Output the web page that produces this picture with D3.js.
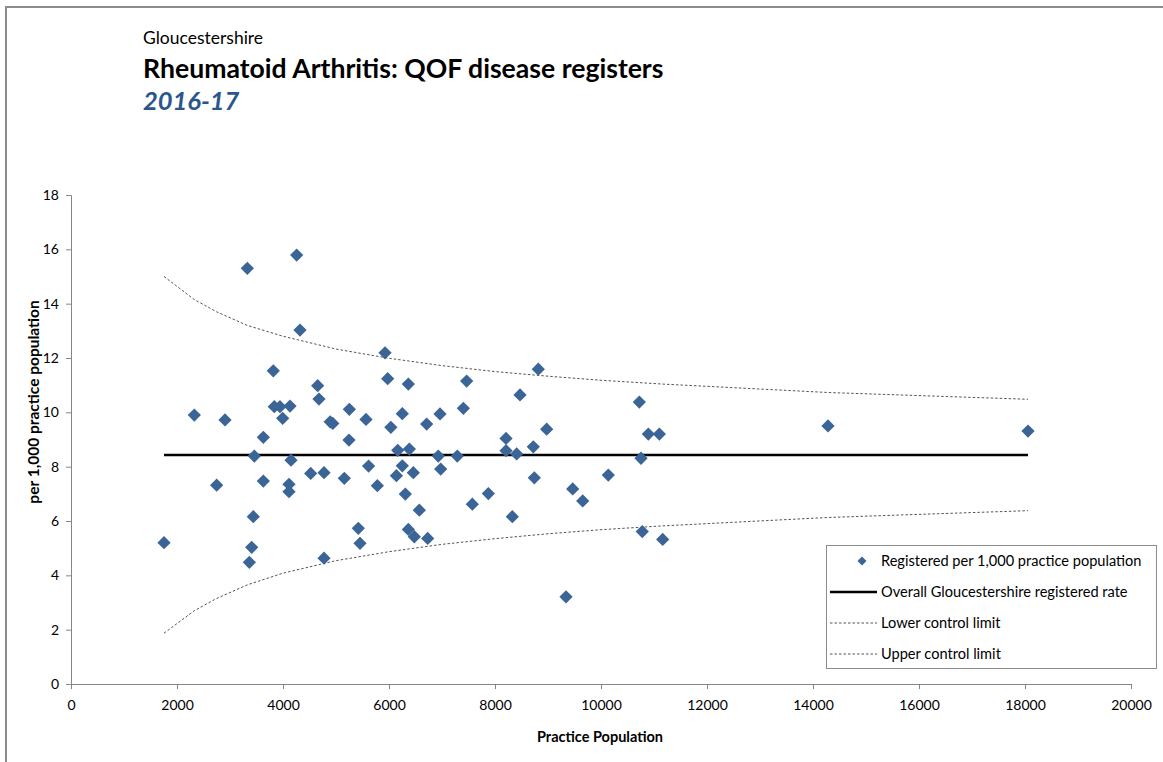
<!DOCTYPE html>
<html>
<head>
<meta charset="utf-8">
<script src="https://cdn.jsdelivr.net/npm/d3@7"></script>
<style>
  html, body { margin: 0; padding: 0; background: #fff; }
  svg { display: block; font-family: Lato, "Open Sans", "Liberation Sans", sans-serif; }
</style>
</head>
<body>
<svg id="chart" width="1163" height="762"></svg>
<script>
// ---- data ----
const practicePopulation = [
  1755, 2327, 2748, 2906, 3327, 3365, 3409, 3440, 3459, 3629,
  3629, 3817, 3836, 3943, 3994, 4113, 4113, 4132, 4151, 4258,
  4321, 4522, 4654, 4679, 4774, 4774, 4890, 4940, 5157, 5245,
  5252, 5421, 5453, 5566, 5615, 5780, 5925, 5975, 6035, 6140,
  6165, 6251, 6251, 6308, 6365, 6384, 6365, 6459, 6478, 6572,
  6711, 6730, 6930, 6962, 6975, 7289, 7403, 7465, 7572, 7874,
  8208, 8208, 8327, 8409, 8472, 8723, 8742, 8817, 8975, 9340,
  9466, 9655, 10138, 10723, 10755, 10779, 10893, 11101, 11164, 14283,
  18057
];
const registeredRate = [
  5.20, 9.90, 7.32, 9.72, 15.30, 4.48, 5.03, 6.16, 8.39, 9.08,
  7.47, 11.53, 10.21, 10.21, 9.78, 7.35, 7.08, 10.23, 8.24, 15.79,
  13.03, 7.75, 10.98, 10.49, 7.78, 4.63, 9.65, 9.59, 7.57, 8.98,
  10.11, 5.73, 5.18, 9.74, 8.02, 7.30, 12.19, 11.24, 9.45, 7.67,
  8.60, 9.95, 8.03, 6.99, 11.04, 8.65, 5.69, 7.78, 5.42, 6.40,
  9.57, 5.36, 8.39, 9.94, 7.91, 8.39, 10.15, 11.15, 6.62, 7.01,
  9.04, 8.59, 6.16, 8.47, 10.64, 8.73, 7.59, 11.59, 9.38, 3.21,
  7.18, 6.74, 7.69, 10.38, 8.31, 5.61, 9.20, 9.20, 5.32, 9.50,
  9.31
];
const overallRate = 8.43;
const overallRange = [1755, 18057];

const limitPopulation = [1755, 2327, 2748, 3327, 4000, 5000, 6000, 7000, 8000, 9000, 10000, 11164, 14283, 18057];
const upperLimit      = [15.0, 14.15, 13.7, 13.2, 12.8, 12.33, 11.99, 11.72, 11.5, 11.33, 11.18, 11.04, 10.73, 10.48];
const lowerLimit      = [1.87, 2.7, 3.15, 3.65, 4.08, 4.54, 4.87, 5.14, 5.35, 5.53, 5.68, 5.82, 6.13, 6.38];

const xTicks = [0, 2000, 4000, 6000, 8000, 10000, 12000, 14000, 16000, 18000, 20000];
const yTicks = [0, 2, 4, 6, 8, 10, 12, 14, 16, 18];

const legendLabels = [
  "Registered per 1,000 practice population",
  "Overall Gloucestershire registered rate",
  "Lower control limit",
  "Upper control limit"
];

// ---- drawing ----
const svg = d3.select("#chart");
const markerColor = "#3c6597";
const axisColor = "#868686";

// outer frame (top and left edges visible)
svg.append("path")
  .attr("d", "M6,762 L6,7 L1163,7")
  .attr("fill", "none").attr("stroke", "#8c8c8c").attr("stroke-width", 2);

// titles
svg.append("text").attr("x", 143).attr("y", 44)
  .attr("font-size", 17.5).attr("fill", "#000").text("Gloucestershire");
svg.append("text").attr("x", 143).attr("y", 78)
  .attr("font-size", 26.6).attr("font-weight", "bold").attr("fill", "#000")
  .text("Rheumatoid Arthritis: QOF disease registers");
svg.append("text").attr("x", 143).attr("y", 110)
  .attr("font-size", 25.5).attr("font-weight", "bold").attr("font-style", "italic")
  .attr("fill", "#2b568c").text("2016-17");

const x = d3.scaleLinear().domain([0, 20000]).range([71, 1131]);
const y = d3.scaleLinear().domain([0, 18]).range([684, 195]);

// axes
const xAxis = svg.append("g").attr("transform", `translate(0,${y(0)})`)
  .call(d3.axisBottom(x).tickValues(xTicks).tickFormat(d3.format("d")).tickSize(5).tickPadding(8));
const yAxis = svg.append("g").attr("transform", `translate(${x(0)},0)`)
  .call(d3.axisLeft(y).tickValues(yTicks).tickSize(5).tickPadding(7));
[xAxis, yAxis].forEach(g => {
  g.select(".domain").attr("stroke", axisColor);
  g.selectAll(".tick line").attr("stroke", axisColor);
  g.selectAll(".tick text").attr("fill", "#000").attr("font-size", 14)
    .attr("font-family", "Lato, 'Open Sans', sans-serif");
});
xAxis.selectAll(".tick text").attr("dy", "0.9em");

// axis titles
svg.append("text").attr("x", 600).attr("y", 742).attr("text-anchor", "middle")
  .attr("font-size", 14.5).attr("font-weight", "bold").text("Practice Population");
svg.append("text").attr("transform", `translate(39,402) rotate(-90)`)
  .attr("text-anchor", "middle").attr("font-size", 15.5).attr("font-weight", "bold")
  .text("per 1,000 practice population");

// control limits
const lineGen = d3.line().x(d => x(d[0])).y(d => y(d[1]));
[upperLimit, lowerLimit].forEach(arr => {
  svg.append("path")
    .datum(limitPopulation.map((p, i) => [p, arr[i]]))
    .attr("d", lineGen)
    .attr("fill", "none").attr("stroke", "#555").attr("stroke-width", 1)
    .attr("stroke-dasharray", "2.5,2");
});

// overall rate
svg.append("path")
  .datum(overallRange.map(p => [p, overallRate]))
  .attr("d", lineGen)
  .attr("fill", "none").attr("stroke", "#000").attr("stroke-width", 2.5);

// markers
const diamond = d3.symbol().type(d3.symbolSquare).size(88);
svg.append("g").selectAll("path")
  .data(practicePopulation.map((p, i) => [p, registeredRate[i]]))
  .join("path")
  .attr("d", diamond)
  .attr("transform", d => `translate(${x(d[0])},${y(d[1])}) rotate(45)`)
  .attr("fill", markerColor);

// legend
const lg = svg.append("g");
lg.append("rect").attr("x", 826.5).attr("y", 545.5).attr("width", 330).attr("height", 123)
  .attr("fill", "#fff").attr("stroke", "#8c8c8c").attr("stroke-width", 1);
const rowY = [561, 592, 623, 654];
legendLabels.forEach((t, i) => {
  lg.append("text").attr("x", 881).attr("y", rowY[i]).attr("dy", "0.35em")
    .attr("font-size", 14.6).attr("fill", "#000").text(t);
});
lg.append("path").attr("d", d3.symbol().type(d3.symbolSquare).size(40))
  .attr("transform", `translate(862,${rowY[0]}) rotate(45)`).attr("fill", markerColor);
lg.append("line").attr("x1", 830).attr("x2", 877).attr("y1", rowY[1]).attr("y2", rowY[1])
  .attr("stroke", "#000").attr("stroke-width", 2.5);
[2, 3].forEach(i => {
  lg.append("line").attr("x1", 830).attr("x2", 877).attr("y1", rowY[i]).attr("y2", rowY[i])
    .attr("stroke", "#555").attr("stroke-width", 1).attr("stroke-dasharray", "2.5,2");
});
</script>
</body>
</html>
